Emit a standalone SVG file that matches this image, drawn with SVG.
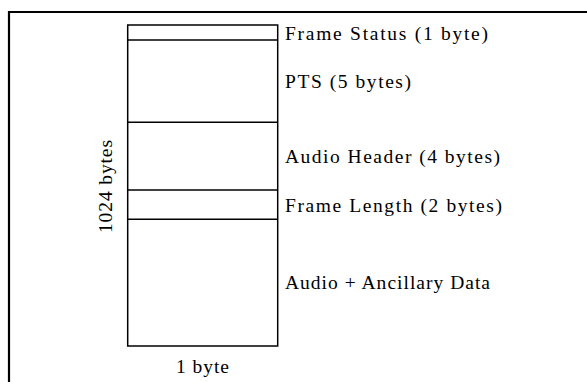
<svg xmlns="http://www.w3.org/2000/svg" width="587" height="382" viewBox="0 0 587 382">
<style>
.t{font-family:"Liberation Serif","Times New Roman",serif;font-size:19.5px;fill:#000}
.box{fill:#fff;stroke:#000;stroke-width:1.5}
.sep{stroke:#000;stroke-width:1.5}
</style>
<rect width="587" height="382" fill="#fff"/>
<g id="frame">
<path d="M9,382 V12 H587" fill="none" stroke="#000" stroke-width="2.2"/>
</g>
<g id="block">
<rect class="box" x="127.7" y="25" width="150" height="321"/>
</g>
<g id="connectors">
<line class="sep" x1="127.7" y1="40" x2="277.7" y2="40"/>
<line class="sep" x1="127.7" y1="122.3" x2="277.7" y2="122.3"/>
<line class="sep" x1="127.7" y1="190" x2="277.7" y2="190"/>
<line class="sep" x1="127.7" y1="219.3" x2="277.7" y2="219.3"/>
</g>
<g id="labels">
<text class="t" x="285" y="39.5" textLength="203" lengthAdjust="spacing">Frame Status (1 byte)</text>
<text class="t" x="285" y="88" textLength="126" lengthAdjust="spacing">PTS (5 bytes)</text>
<text class="t" x="285" y="163" textLength="215" lengthAdjust="spacing">Audio Header (4 bytes)</text>
<text class="t" x="285" y="212" textLength="217" lengthAdjust="spacing">Frame Length (2 bytes)</text>
<text class="t" x="285" y="289" textLength="205" lengthAdjust="spacing">Audio + Ancillary Data</text>
<text class="t" x="176" y="373" textLength="53" lengthAdjust="spacing">1 byte</text>
<text class="t" transform="translate(111.5,233) rotate(-90)" textLength="93" lengthAdjust="spacing">1024 bytes</text>
</g>
</svg>
